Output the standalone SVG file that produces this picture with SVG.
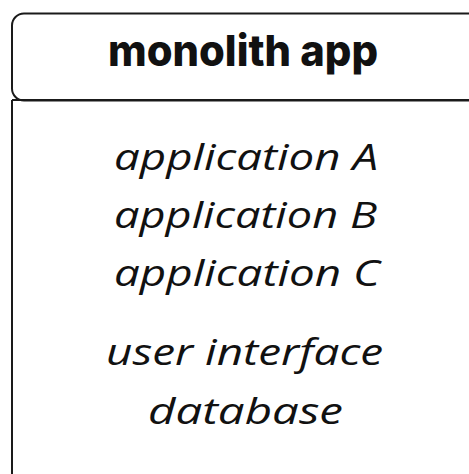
<svg xmlns="http://www.w3.org/2000/svg" width="469" height="474" viewBox="0 0 469 474">
  <style>
    .frame { fill: none; stroke: #1a1a1a; stroke-width: 2; }
    .title { font-family: Inter, "Open Sans", sans-serif; font-weight: 800; font-size: 43px; fill: #111; }
    .item { font-family: "Open Sans", Lato, sans-serif; font-style: italic; font-size: 37px; fill: #111; }
  </style>
  <rect width="469" height="474" fill="#ffffff"/>
  <g id="monolith">
    <!-- body outline, continuing past the right and bottom edges -->
    <path class="frame" d="M12 100 V490 M12 100 H520"/>
    <!-- header bar -->
    <rect class="frame" x="12" y="13.5" width="520" height="87" rx="12" ry="12"/>
    <text class="title" x="108" y="66" textLength="270" lengthAdjust="spacingAndGlyphs">monolith app</text>
  </g>
  <g id="contents">
    <text class="item" x="114" y="170" textLength="264" lengthAdjust="spacingAndGlyphs">application A</text>
    <text class="item" x="114" y="228" textLength="263" lengthAdjust="spacingAndGlyphs">application B</text>
    <text class="item" x="114" y="286" textLength="266" lengthAdjust="spacingAndGlyphs">application C</text>
    <text class="item" x="106" y="365" textLength="277" lengthAdjust="spacingAndGlyphs">user interface</text>
    <text class="item" x="148" y="424" textLength="195" lengthAdjust="spacingAndGlyphs">database</text>
  </g>
  <g id="connectors"/>
</svg>
